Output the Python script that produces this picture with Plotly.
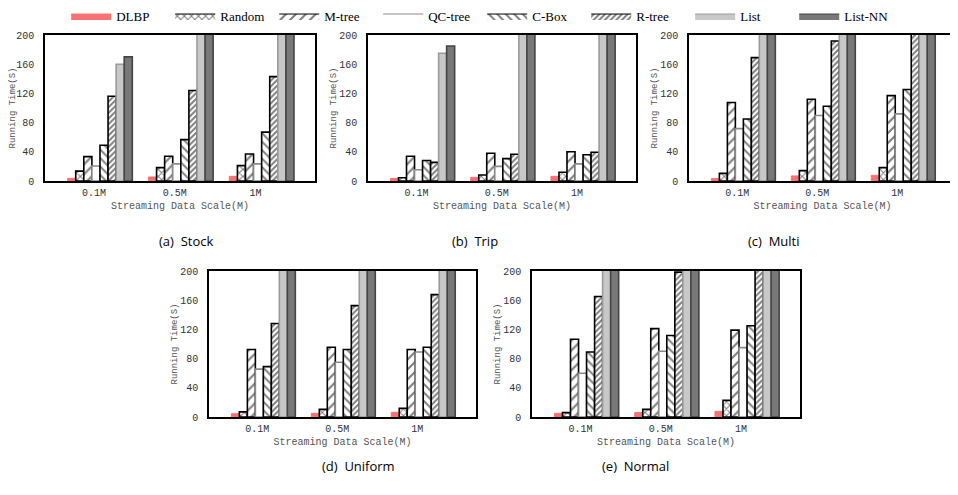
import plotly.graph_objects as go

groups = ["0.1M", "0.5M", "1M"]
series = ["DLBP", "Random", "M-tree", "QC-tree", "C-Box", "R-tree", "List", "List-NN"]

# values per dataset: each list is one series across the 3 groups (>200 values are clipped by the axis)
stock = {
    "DLBP": [3.7, 5.5, 6.4], "Random": [13.5, 18.3, 21], "M-tree": [33.4, 34, 37],
    "QC-tree": [20.5, 23.5, 23.5], "C-Box": [49, 56.7, 67], "R-tree": [116, 124, 143],
    "List": [160, 260, 300], "List-NN": [170, 270, 320],
}
trip = {
    "DLBP": [3.5, 5, 6.4], "Random": [4.5, 8.2, 11.9], "M-tree": [34, 38, 40],
    "QC-tree": [15.5, 20, 23.5], "C-Box": [28, 30.7, 36], "R-tree": [25.5, 36.6, 39.4],
    "List": [175, 260, 300], "List-NN": [185, 270, 320],
}
multi = {
    "DLBP": [3.2, 6.9, 7.8], "Random": [10.5, 14.2, 18.3], "M-tree": [107.5, 112, 117],
    "QC-tree": [71.8, 89.7, 92], "C-Box": [85, 102.5, 125.4], "R-tree": [169, 191.8, 215],
    "List": [230, 260, 300], "List-NN": [240, 270, 320],
}
uniform = {
    "DLBP": [4.5, 5, 6.5], "Random": [7, 10.5, 11.8], "M-tree": [92.5, 95.5, 92.5],
    "QC-tree": [65.6, 75, 89], "C-Box": [69, 92.5, 95.5], "R-tree": [128, 152.6, 167.6],
    "List": [230, 260, 300], "List-NN": [240, 270, 320],
}
normal = {
    "DLBP": [5, 6, 7.7], "Random": [6, 10.5, 22.8], "M-tree": [106.6, 121, 119],
    "QC-tree": [60, 90, 95], "C-Box": [89, 111.6, 125], "R-tree": [165, 198.5, 230],
    "List": [230, 260, 300], "List-NN": [240, 270, 320],
}
datasets = [stock, trip, multi, uniform, normal]
captions = ["(a)  Stock", "(b)  Trip", "(c)  Multi", "(d)  Uniform", "(e)  Normal"]
y_ticks = [0, 40, 80, 120, 160, 200]

# style per series: fill colour, border colour, optional hatch pattern (shape, size, solidity)
fills = {"DLBP": "#f87272", "Random": "white", "M-tree": "white", "QC-tree": "white",
         "C-Box": "white", "R-tree": "white", "List": "#c8c8c8", "List-NN": "#787878"}
borders = {"DLBP": "#f87272", "Random": "black", "M-tree": "black", "QC-tree": "#8a8a8a",
           "C-Box": "black", "R-tree": "black", "List": "#9a9a9a", "List-NN": "#444444"}
hatches = {"Random": ("x", 5, 0.38), "M-tree": ("/", 7, 0.3),
           "C-Box": ("\\", 6, 0.32), "R-tree": ("/", 4, 0.5)}


def pattern(s):
    if s not in hatches:
        return None
    shp, sz, sol = hatches[s]
    return dict(shape=shp, fgcolor="black", bgcolor="white", size=sz, solidity=sol)


W, H = 958, 495
OFF = 8  # the page body adds an 8px margin; compensate so the figure lands where the reference is
# plot-area boxes in target page pixels (left, right, top, bottom)
boxes = [(45, 315, 35, 181), (368, 636, 35, 181), (689, 956, 35, 181),
         (209, 476, 271, 417), (532, 800, 271, 417)]
cap_pos = [(157, 241), (475, 241), (802, 241), (320, 477), (635, 477)]


def px(x):
    return (x - OFF) / W


def py(y):
    return 1 - (y - OFF) / H


fig = go.Figure()
mono = "Liberation Mono, Courier New, monospace"
xs = list(range(len(groups)))

for i, ds in enumerate(datasets):
    sfx = "" if i == 0 else str(i + 1)
    for s in series:
        mk = dict(color=fills[s], line=dict(color=borders[s], width=1.6 if s != "DLBP" else 1))
        if pattern(s):
            mk["pattern"] = pattern(s)
        fig.add_trace(go.Bar(
            x=xs, y=ds[s], name=s, marker=mk,
            xaxis="x" + sfx, yaxis="y" + sfx,
            showlegend=False, legendgroup=s,
        ))
    l, r, t, b = boxes[i]
    fig.layout["xaxis" + sfx] = dict(
        domain=[px(l), px(r)], anchor="y" + sfx, range=[-0.68, 2.66], automargin=False,
        tickvals=[x - 0.075 for x in xs], ticktext=groups,
        showline=True, mirror=True, linecolor="black", linewidth=1.5,
        showgrid=False, zeroline=False, ticks="", ticklabelstandoff=1,
        tickfont=dict(family=mono, size=10, color="#333"),
        title=dict(text="Streaming Data Scale(M)", font=dict(family=mono, size=10, color="#555"), standoff=4),
    )
    fig.layout["yaxis" + sfx] = dict(
        domain=[py(b), py(t)], anchor="x" + sfx, range=[0, 200], automargin=False,
        tickvals=y_ticks, showline=True, mirror=True, linecolor="black", linewidth=1.5,
        showgrid=False, zeroline=False, ticks="", ticklabelstandoff=7,
        tickfont=dict(family=mono, size=10, color="#333"),
        title=dict(text="Running Time(S)", font=dict(family=mono, size=9, color="#555"), standoff=0),
    )
    cx, cy = cap_pos[i]
    fig.add_annotation(text=captions[i], x=px(cx), y=py(cy), xref="paper", yref="paper",
                       showarrow=False, font=dict(family="Open Sans, sans-serif", size=13, color="black"))

# legend entries: empty filled traces so the legend shows wide rectangular swatches
for s in series:
    kw = dict(fillpattern=pattern(s)) if pattern(s) else {}
    fig.add_trace(go.Scatter(
        x=[None], y=[None], name=s, mode="lines", fill="toself",
        fillcolor=fills[s], line=dict(color=borders[s], width=1),
        legendgroup=s, showlegend=True, hoverinfo="skip", **kw,
    ))

fig.update_layout(
    width=W, height=H, margin=dict(l=0, r=0, t=0, b=0, autoexpand=False),
    paper_bgcolor="white", plot_bgcolor="white",
    barmode="group", bargap=0.2, bargroupgap=0,
    legend=dict(orientation="h", x=0.495, xanchor="center", y=1.014, yanchor="top",
                font=dict(family="Liberation Serif, Times New Roman, serif", size=13, color="black"),
                itemwidth=40, entrywidth=49, entrywidthmode="pixels",
                tracegroupgap=0, bgcolor="rgba(0,0,0,0)"),
)

fig.write_html("out.html")
